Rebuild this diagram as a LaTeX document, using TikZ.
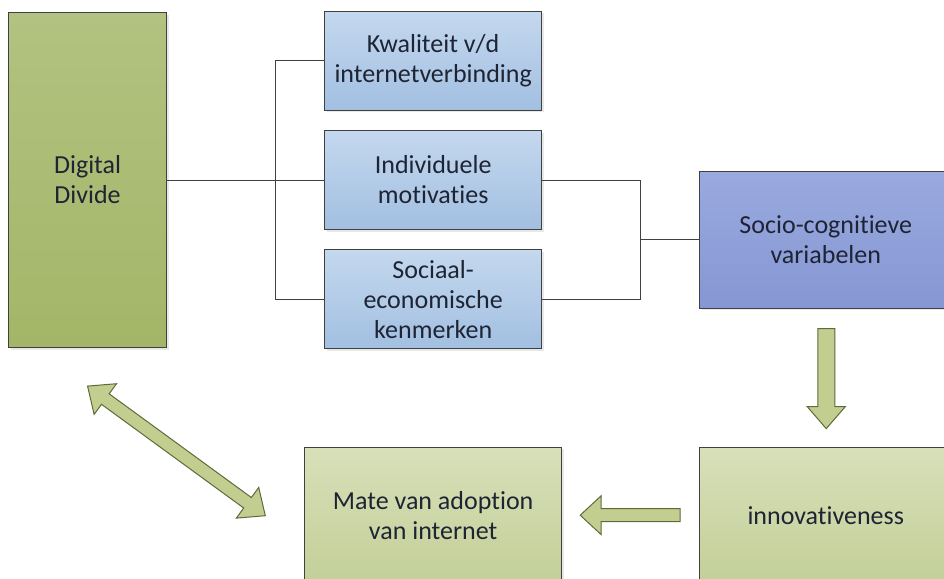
\documentclass[tikz,border=0pt]{standalone}
\usepackage{fontspec}
\setmainfont{Carlito}[Ligatures=NoCommon]
\usepackage{xcolor}
\definecolor{cLine}{HTML}{404040}
\definecolor{cText}{HTML}{1E2433}
\definecolor{cDivTop}{HTML}{B2C281}
\definecolor{cDivBot}{HTML}{A3B667}
\definecolor{cBlueTop}{HTML}{C4D8EE}
\definecolor{cBlueBot}{HTML}{A2BFE1}
\definecolor{cSocTop}{HTML}{9AAADF}
\definecolor{cSocBot}{HTML}{8596D3}
\definecolor{cLightTop}{HTML}{D8E0B9}
\definecolor{cLightBot}{HTML}{C3CF98}
\definecolor{cArrow}{HTML}{C2CE8F}
\definecolor{cArrowLine}{HTML}{5E6A3C}
\usetikzlibrary{positioning,calc,shadows}
\tikzset{
  node-box/.style={draw=cLine,line width=1.1pt,align=center,inner sep=2pt,
    font=\fontsize{26}{30}\selectfont,text=cText,
    drop shadow={opacity=0.18,shadow xshift=2pt,shadow yshift=-2pt}},
  node-divide/.style={top color=cDivTop,bottom color=cDivBot,
    minimum width=158pt,minimum height=335pt},
  node-factor/.style={top color=cBlueTop,bottom color=cBlueBot,
    minimum width=217pt,minimum height=99pt},
  node-socio/.style={top color=cSocTop,bottom color=cSocBot,
    minimum width=252pt,minimum height=137pt},
  node-result/.style={top color=cLightTop,bottom color=cLightBot,
    minimum height=136pt},
  link/.style={draw=cLine,line width=1.1pt},
  block-arrow/.style={draw=cArrowLine,line width=1pt,fill=cArrow,
    line join=miter},
}

\begin{document}
\begin{tikzpicture}[x=1pt,y=-1pt]
  \useasboundingbox (0,0) rectangle (944,578);
  \clip (0,0) rectangle (944,578);
  % left column and the three factors
  \node[node-box,node-divide,anchor=north west] (dd) at (8,12) {Digital\\Divide};
  \node[node-box,node-factor,right=157pt of dd] (ind) {Individuele\\motivaties};
  \node[node-box,node-factor,above=19pt of ind] (kw) {Kwaliteit v/d\\internetverbinding};
  \node[node-box,node-factor,below=19pt of ind] (soc) {Sociaal-\\economische\\kenmerken};
  \coordinate (mid) at ($(ind.east)!0.5!(soc.east)$);
  \node[node-box,node-socio,right=157pt of mid] (socio) {Socio-cognitieve\\variabelen};
  \node[node-box,node-result,minimum width=252pt,below=138pt of socio] (inno) {innovativeness};
  \node[node-box,node-result,minimum width=257pt,left=137pt of inno] (mate) {Mate van adoption\\van internet};
  % connectors
  \draw[link] (dd.east) -- (ind.west);
  \draw[link] (kw.west) -- ++(-49,0) |- (soc.west);
  \draw[link] (ind.east) -- ++(98,0) |- (soc.east);
  \draw[link] ($(mid)+(98,0)$) -- (socio.west);
  % block arrows
  \coordinate (dtop) at ($(socio.south)+(0.5,20)$);
  \draw[block-arrow] ($(dtop)+(-8.5,0)$) -- ++(17,0) -- ++(0,78) -- ++(10.5,0)
    -- ($(dtop)+(0,100)$) -- ++(-19,-22) -- ++(10.5,0) -- cycle;
  \coordinate (ltip) at ($(mate.east)+(18,0)$);
  \draw[block-arrow] (ltip) -- ++(21,-19.5) -- ++(0,13) -- ++(79,0) -- ++(0,13)
    -- ++(-79,0) -- ++(0,13) -- cycle;
  \coordinate (atop) at ($(dd.south)+(0,38)$);
  \begin{scope}[shift={(atop)},x=1pt,y=1pt,rotate=-36.1]
    \draw[block-arrow] (0,0) -- (22,19) -- (22,6.5) -- (198,6.5) -- (198,19)
      -- (220,0) -- (198,-19) -- (198,-6.5) -- (22,-6.5) -- (22,-19) -- cycle;
  \end{scope}
\end{tikzpicture}
\end{document}
